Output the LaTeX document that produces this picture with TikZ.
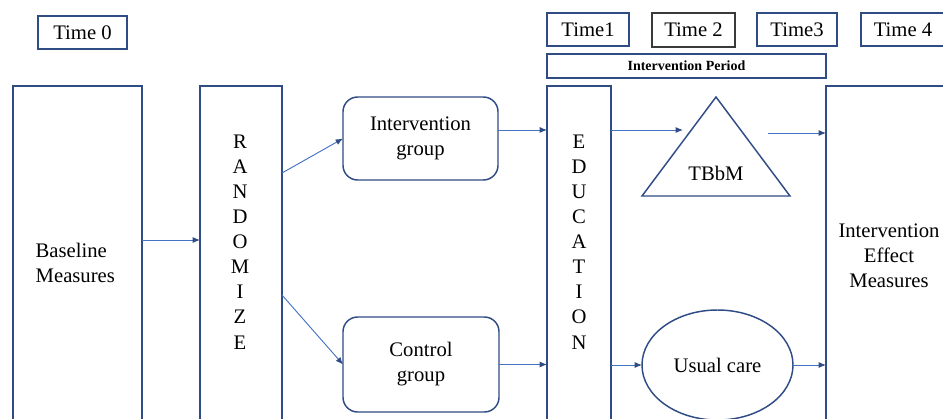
\documentclass[tikz,border=0pt]{standalone}
\usepackage{fontspec}
\setmainfont{Liberation Serif}
\newfontfamily\timesfont{Liberation Serif}
\usetikzlibrary{arrows.meta,shapes.geometric}

\definecolor{boxblue}{HTML}{2F4C85}
\definecolor{lineblue}{HTML}{4472C4}
\definecolor{boxgrey}{HTML}{3A3A3A}

\tikzset{
  box/.style={draw=boxblue,line width=1.1pt,rectangle,inner sep=0pt,outer sep=0pt},
  grp/.style={box,rounded corners=11pt,align=center},
  arr/.style={draw=lineblue,line width=0.7pt,-{Latex[length=5.5pt,width=4.5pt,color=boxblue]}}
}

\begin{document}
\begin{tikzpicture}[x=0.75pt,y=0.75pt,yscale=-1,xscale=1,font=\timesfont\fontsize{15.5}{18.8}\selectfont]
\useasboundingbox (0,0) rectangle (943,418);
\clip (0,0) rectangle (943,418);

%Shape: Rectangle (time labels)
\node[box,minimum width=66.75pt,minimum height=24.75pt] (t0) at (82.5,32.5) {Time 0};
\node[box,minimum width=61.5pt,minimum height=24.75pt] (t1) at (588,29.5) {Time1};
\node[box,draw=boxgrey,minimum width=62.25pt,minimum height=25.5pt] (t2) at (693.5,30) {Time 2};
\node[box,minimum width=60pt,minimum height=24.75pt] (t3) at (797,29.5) {Time3};
\node[box,minimum width=63pt,minimum height=24.75pt] (t4) at (903,29.5) {Time 4};
\node[box,minimum width=209.25pt,minimum height=18pt,font=\timesfont\bfseries\fontsize{10.5}{12}\selectfont] (period) at (686.5,66) {Intervention Period};

%Shape: Rectangle (tall columns)
\node[box,minimum width=96.75pt,minimum height=265.5pt] (base) at (77.5,263) {};
\node[box,minimum width=61.5pt,minimum height=265.5pt] (rand) at (241,263) {};
\node[box,minimum width=48pt,minimum height=265.5pt] (edu) at (579,263) {};
\node[box,minimum width=94.5pt,minimum height=265.5pt] (eff) at (889,263) {};

%Shape: Rounded Rect
\node[grp,minimum width=116.25pt,minimum height=62.25pt] (ig) at (420.5,138.5) {Intervention\\group};
\node[grp,minimum width=117pt,minimum height=71.25pt] (cg) at (421,364.5) {Control\\group};

%Shape: Triangle
\draw[draw=boxblue,line width=1.1pt] (716,97) -- (790,196) -- (642,196) -- cycle;
%Shape: Ellipse
\node[box,ellipse,minimum width=113.25pt,minimum height=82.5pt] (uc) at (717.5,365) {Usual care};

% Text Node
\node[anchor=west,align=left] (basetxt) at (31,263) {Baseline\\Measures};
% Text Node
\node[align=center] (randtxt) at (240,242) {R\\A\\N\\D\\O\\M\\I\\Z\\E};
% Text Node
\node[align=center] (edutxt) at (579,242) {E\\D\\U\\C\\A\\T\\I\\O\\N};
% Text Node
\node (tbbm) at (716,173.5) {TBbM};
% Text Node
\node[align=center] (efftxt) at (889,256) {Intervention\\Effect\\Measures};

%Straight Lines
\coordinate (tbin) at (683,130);
\coordinate (tbout) at (768,133);
\draw[arr] ([yshift=-17.25pt]base.east) -- ([yshift=-17.25pt]rand.west);
\draw[arr] ([yshift=-67.5pt]rand.east) -- (ig.west);
\draw[arr] ([yshift=24pt]rand.east) -- (cg.west);
\draw[arr] ([yshift=-6.4pt]ig.east) -- ([yshift=-6.4pt]ig.east -| edu.west);
\draw[arr] (cg.east) -- (cg.east -| edu.west);
\draw[arr] (tbin -| edu.east) -- (tbin);
\draw[arr] (uc.west -| edu.east) -- (uc.west);
\draw[arr] (tbout) -- (tbout -| eff.west);
\draw[arr] (uc.east) -- (uc.east -| eff.west);

\end{tikzpicture}
\end{document}
